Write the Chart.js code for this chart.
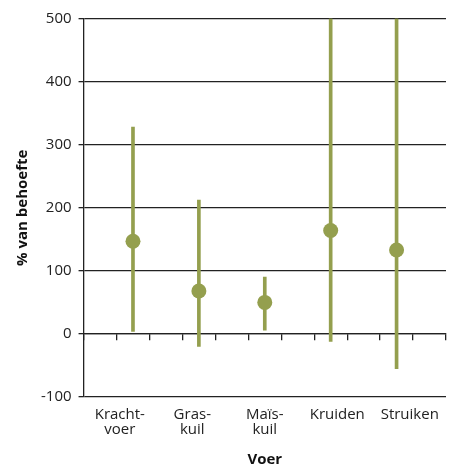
<!DOCTYPE html>
<html>
<head>
<meta charset="utf-8">
<script src="https://cdn.jsdelivr.net/npm/chart.js@4"></script>
<style>
  html, body { margin: 0; padding: 0; background: #fff; }
  #wrap { width: 449px; height: 472px; }
</style>
</head>
<body>
<div id="wrap"><canvas id="c" width="449" height="472"></canvas></div>
<script>
const categories = [["Kracht-", "voer"], ["Gras-", "kuil"], ["Maïs-", "kuil"], "Kruiden", "Struiken"];
const meanValues = [147, 68, 50, 164, 133];
const lowValues = [4, -20, 6, -12, -55];
const highValues = [328, 212, 90, 500, 500];
const yTicks = [-100, 0, 100, 200, 300, 400, 500];

const olive = "#949f4e";
const font = "'Open Sans', 'DejaVu Sans', sans-serif";

const rangeData = categories.map((c, i) => ({ x: i + 1, y: [lowValues[i], highValues[i]] }));
const meanData = categories.map((c, i) => ({ x: i + 1, y: meanValues[i] }));

new Chart(document.getElementById("c"), {
  data: {
    datasets: [
      { type: "bar", data: rangeData, backgroundColor: olive, borderWidth: 0, barThickness: 3, xAxisID: "x", yAxisID: "y", order: 2 },
      { type: "scatter", data: meanData, backgroundColor: olive, borderColor: olive, pointRadius: 7.5, pointHoverRadius: 7.5, borderWidth: 0, xAxisID: "x", yAxisID: "y", order: 1 }
    ]
  },
  options: {
    responsive: false,
    animation: false,
    events: [],
    layout: { autoPadding: false, padding: { top: 18.5, right: 3, left: 14, bottom: 3 } },
    plugins: { legend: { display: false }, tooltip: { enabled: false } },
    scales: {
      x: {
        type: "linear", position: { y: 0 }, min: 0.5, max: 5.5,
        ticks: { display: false, stepSize: 0.5 },
        grid: { drawOnChartArea: false, drawTicks: true, tickLength: 6, color: "#222", lineWidth: 1.3 },
        border: { display: true, color: "#222", width: 1.3 },
        afterFit: (axis) => { axis.paddingLeft = 0; axis.paddingRight = 0; }
      },
      x2: {
        type: "linear", position: "bottom", min: 0.5, max: 5.5,
        afterBuildTicks: (axis) => { axis.ticks = [0.5].concat(categories.map((c, i) => i + 1), [5.5]).map(v => ({ value: v })); },
        afterFit: (axis) => { axis.paddingLeft = 0; axis.paddingRight = 0; },
        ticks: { callback: (v) => Number.isInteger(v) ? categories[v - 1] : "", font: { family: font, size: 15, lineHeight: 1.0 }, color: "#222", padding: 10, maxRotation: 0, autoSkip: false },
        grid: { display: false, drawTicks: false },
        border: { display: false },
        title: { display: true, text: "Voer", font: { family: font, size: 15, weight: "bold" }, color: "#111", padding: { top: 4, bottom: 0 } }
      },
      y: {
        min: -100, max: 500,
        afterBuildTicks: (axis) => { axis.ticks = yTicks.map(v => ({ value: v })); },
        ticks: { font: { family: font, size: 15 }, color: "#222", padding: 7 },
        grid: { color: "#222", lineWidth: 1.3, tickLength: 5 },
        border: { display: true, color: "#222", width: 1.3 },
        title: { display: true, text: "% van behoefte", font: { family: font, size: 15, weight: "bold" }, color: "#111", padding: { top: 0, bottom: 2 } }
      }
    }
  }
});
</script>
</body>
</html>
